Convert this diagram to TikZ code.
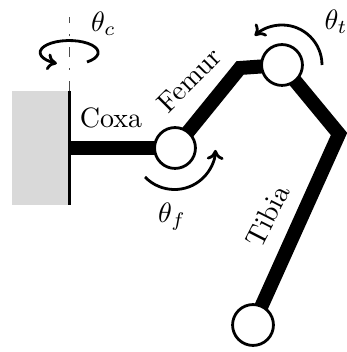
\documentclass[tikz,border=0pt]{standalone}
\usetikzlibrary{arrows.meta}
\definecolor{wallgray}{gray}{0.85}
\tikzset{
  link/.style={line width=5pt,line join=miter,line cap=butt},
  joint/.style={circle,draw=black,fill=white,line width=1pt,minimum size=14.6pt,inner sep=0pt},
  rot/.style={line width=1pt,-{To[length=3.5pt,width=6pt]}},
  lbl/.style={inner sep=0pt},
}
\begin{document}
\begin{tikzpicture}[x=0.357pt,y=0.357pt]
\useasboundingbox (0,0) rectangle (347,352);
\fill[wallgray] (12,147) rectangle (69.5,261);
\coordinate (wt) at (69.5,261);
\coordinate (wb) at (69.5,147);
\coordinate (axis) at (69.5,335);
\coordinate (wm) at (69.5,204);
\coordinate (bend) at (240,284);
\coordinate (corner) at (339,218);
\node[joint,draw=none,fill=none] (femur) at (175,204) {};
\node[joint,draw=none,fill=none] (knee) at (282,287) {};
\node[joint,draw=none,fill=none] (foot) at (253,27) {};
\draw[line width=0.4pt,black!70,dash pattern=on 3.6pt off 3.9pt on 0.7pt off 3.9pt] (wt) -- (axis);
\draw[link] (wm) -- (femur.center);
\draw[link] (femur.center) -- (bend) -- (knee.center) -- (corner) -- (foot.center);
\draw[line width=1pt] (wt) -- (wb);
\node[joint] at (femur) {};
\node[joint] at (knee) {};
\node[joint] at (foot) {};
\draw[rot] (87,290) arc[start angle=-52,end angle=245,x radius=29,y radius=12];
\draw[rot] (145,175) arc[start angle=224,end angle=358,radius=41];
\draw[rot] (322,287) arc[start angle=0,end angle=133,radius=40];
\node[lbl] (tc) at (103.5,328) {$\theta_c$};
\node[lbl] (tt) at (336,330) {$\theta_t$};
\node[lbl] (tf) at (172,135) {$\theta_f$};
\node[lbl] (cx) at (111,234) {Coxa};
\node[lbl,rotate=45] (fm) at (189,272) {Femur};
\node[lbl,rotate=63] (tb) at (267.5,136) {Tibia};
\end{tikzpicture}
\end{document}
